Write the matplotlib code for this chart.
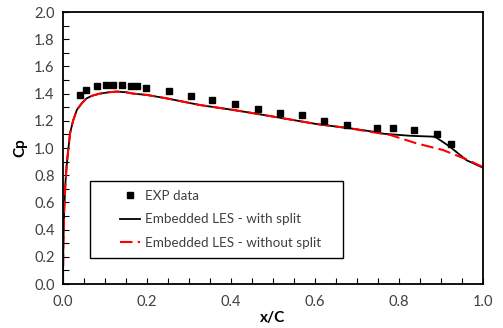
import numpy as np
import matplotlib.pyplot as plt
import matplotlib.patches as patches
from matplotlib.ticker import MultipleLocator

# experimental points
exp_x = [0.040, 0.056, 0.080, 0.102, 0.120, 0.140, 0.161, 0.177, 0.198, 0.253, 0.306,
         0.356, 0.410, 0.465, 0.517, 0.570, 0.622, 0.676, 0.748, 0.785, 0.835, 0.891, 0.925]
exp_cp = [1.39, 1.43, 1.456, 1.46, 1.46, 1.46, 1.456, 1.456, 1.44, 1.42, 1.38,
          1.355, 1.32, 1.29, 1.255, 1.24, 1.20, 1.17, 1.147, 1.147, 1.135, 1.10, 1.03]

# shared leading part of both LES curves
front_x = [0.0, 0.001, 0.003, 0.006, 0.009, 0.013, 0.017, 0.024, 0.033, 0.045, 0.056, 0.070,
           0.088, 0.110, 0.128, 0.150, 0.167, 0.200, 0.247, 0.326, 0.405, 0.445, 0.525,
           0.604, 0.683]
front_cp = [0.0, 0.30, 0.55, 0.75, 0.88, 1.00, 1.11, 1.20, 1.28, 1.33, 1.365, 1.385,
            1.40, 1.41, 1.415, 1.41, 1.40, 1.39, 1.365, 1.316, 1.28, 1.26, 1.218,
            1.176, 1.145]

split_x = front_x + [0.739, 0.763, 0.826, 0.886, 0.921, 0.961, 1.0]
split_cp = front_cp + [1.12, 1.105, 1.09, 1.083, 1.01, 0.91, 0.855]

nosplit_x = front_x + [0.720, 0.779, 0.842, 0.905, 0.961, 1.0]
nosplit_cp = front_cp + [1.125, 1.096, 1.034, 0.985, 0.916, 0.86]

plt.rcParams['font.family'] = ['Lato', 'DejaVu Sans']

fig = plt.figure(figsize=(5.03, 3.28), dpi=100)
ax = fig.add_axes([0.1252, 0.1341, 0.835, 0.8293])

ax.plot(split_x, split_cp, color='black', lw=1.3, label='Embedded LES - with split')
ax.plot(nosplit_x, nosplit_cp, color='#ff0000', lw=1.5, ls=(0, (6, 2.5)),
        label='Embedded LES - without split')
ax.plot(exp_x, exp_cp, 's', color='black', ms=4.2, label='EXP data')

ax.set_xlim(0, 1)
ax.set_ylim(0, 2)
ax.xaxis.set_major_locator(MultipleLocator(0.2))
ax.xaxis.set_minor_locator(MultipleLocator(0.05))
ax.yaxis.set_major_locator(MultipleLocator(0.2))
ax.yaxis.set_minor_locator(MultipleLocator(0.1))
ax.xaxis.set_major_formatter(plt.FormatStrFormatter('%.1f'))
ax.yaxis.set_major_formatter(plt.FormatStrFormatter('%.1f'))
ax.tick_params(which='both', direction='in', length=4, width=0.8, labelsize=10.5,
               labelcolor='#404040')
ax.tick_params(axis='x', pad=8)
ax.tick_params(axis='y', pad=6)
for s in ax.spines.values():
    s.set_linewidth(1.3)
    s.set_color('black')

ax.set_xlabel('x/C', fontsize=11, fontweight='bold', labelpad=1)
ax.set_ylabel('Cp', fontsize=11, fontweight='bold', labelpad=5)

# legend box drawn separately so the entries can sit inset from the left edge
ax.add_patch(patches.Rectangle((0.064, 0.097), 0.602, 0.283, transform=ax.transAxes,
                               fc='white', ec='black', lw=1.0, zorder=4))
h, l = ax.get_legend_handles_labels()
order = [2, 0, 1]
leg = ax.legend([h[i] for i in order], [l[i] for i in order], loc='center left',
                bbox_to_anchor=(0.12, 0.238), fontsize=9.7, frameon=False,
                borderpad=0, labelspacing=0.85, handlelength=1.5, handletextpad=0.35)
leg.set_zorder(5)
for t in leg.get_texts():
    t.set_color('#404040')

fig.savefig('out.png', dpi=100)
